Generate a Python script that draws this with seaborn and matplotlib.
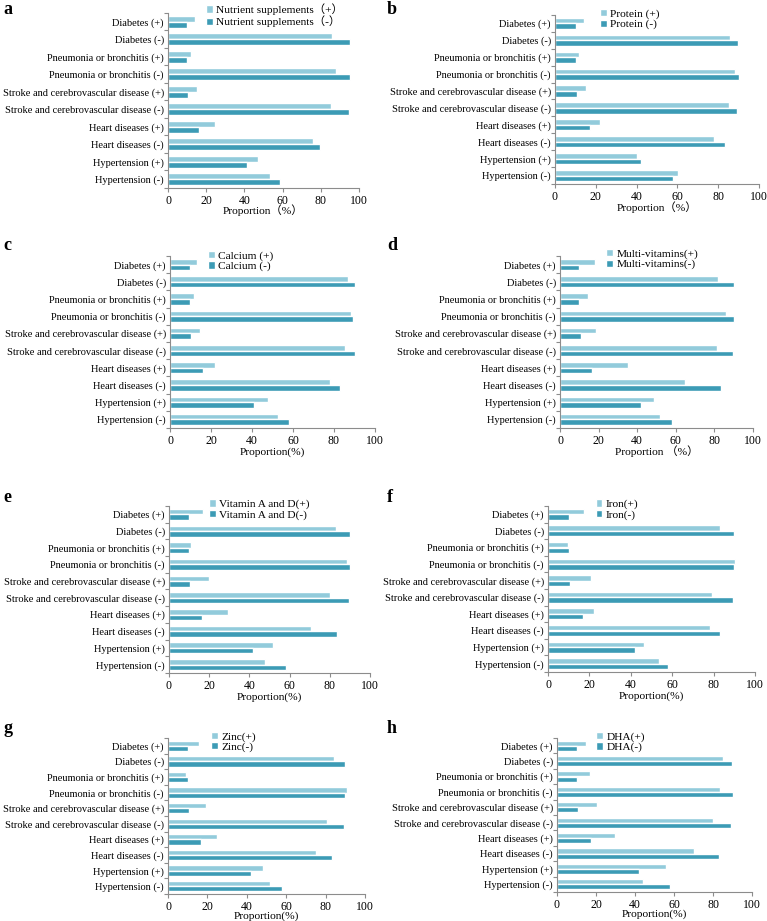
import numpy as np
import pandas as pd
import seaborn as sns
import matplotlib.pyplot as plt
from matplotlib.ticker import FixedLocator

sns.set_style("ticks")
plt.rcParams['font.family'] = ['Liberation Serif', 'Noto Sans CJK SC']
plt.rcParams['text.color'] = 'black'
plt.rcParams['axes.labelcolor'] = 'black'
plt.rcParams['xtick.labelcolor'] = 'black'
plt.rcParams['ytick.labelcolor'] = 'black'

categories = ["Diabetes (+)", "Diabetes (-)",
              "Pneumonia or bronchitis (+)", "Pneumonia or bronchitis (-)",
              "Stroke and cerebrovascular disease (+)", "Stroke and cerebrovascular disease (-)",
              "Heart diseases (+)", "Heart diseases (-)",
              "Hypertension (+)", "Hypertension (-)"]

panel_letters = ['a', 'b', 'c', 'd', 'e', 'f', 'g', 'h']
legend_plus = ["Nutrient supplements（+）", "Protein (+)", "Calcium (+)", "Multi-vitamins(+)",
               "Vitamin A and D(+)", "Iron(+)", "Zinc(+)", "DHA(+)"]
legend_minus = ["Nutrient supplements（-）", "Protein (-)", "Calcium (-)", "Multi-vitamins(-)",
                "Vitamin A and D(-)", "Iron(-)", "Zinc(-)", "DHA(-)"]
xlabels = ["Proportion（%）", "Proportion（%）", "Proportion(%)", "Proportion （%）",
           "Proportion(%)", "Proportion(%)", "Proportion(%)", "Proportion(%)"]

# values, same order as categories
a_plus = [14.3, 86.1, 12.0, 88.2, 15.1, 85.2, 24.7, 75.7, 47.1, 53.4]
a_minus = [9.7, 95.3, 9.9, 95.3, 10.3, 94.8, 16.2, 79.8, 41.4, 58.6]
b_plus = [14.4, 85.8, 11.8, 88.1, 15.2, 85.3, 22.1, 77.9, 40.0, 60.1]
b_minus = [10.3, 89.9, 10.3, 90.0, 10.9, 89.4, 17.0, 83.2, 42.2, 57.7]
c_plus = [13.3, 86.9, 11.7, 88.3, 14.8, 85.6, 22.1, 78.2, 47.7, 52.6]
c_minus = [9.7, 90.4, 9.7, 89.4, 10.2, 90.1, 16.2, 83.0, 41.1, 58.1]
d_plus = [18.1, 82.0, 14.3, 86.0, 18.8, 81.3, 35.2, 64.9, 48.5, 52.0]
d_minus = [10.0, 90.2, 10.0, 90.2, 10.7, 89.8, 16.6, 83.6, 42.1, 58.2]
e_plus = [16.7, 83.1, 11.1, 88.6, 19.9, 79.9, 29.4, 70.5, 51.9, 47.9]
e_minus = [9.8, 90.2, 9.8, 90.2, 10.4, 89.6, 16.6, 83.4, 41.8, 58.0]
f_plus = [17.2, 83.1, 9.8, 90.3, 20.9, 79.4, 22.1, 78.4, 46.4, 53.8]
f_minus = [10.1, 90.0, 10.1, 90.0, 10.8, 89.5, 17.1, 83.3, 42.0, 58.1]
g_plus = [15.6, 84.4, 9.0, 91.0, 19.5, 80.5, 24.7, 75.3, 48.1, 51.9]
g_minus = [10.2, 90.0, 10.0, 90.0, 10.7, 89.3, 16.8, 83.2, 42.1, 57.9]
h_plus = [15.0, 85.3, 16.9, 83.5, 20.4, 79.9, 29.6, 70.4, 55.7, 44.3]
h_minus = [10.2, 89.9, 10.2, 90.1, 10.7, 89.4, 17.2, 83.3, 41.9, 57.9]

plus_data = [a_plus, b_plus, c_plus, d_plus, e_plus, f_plus, g_plus, h_plus]
minus_data = [a_minus, b_minus, c_minus, d_minus, e_minus, f_minus, g_minus, h_minus]

light = '#92CBDB'
dark = '#3C9BB5'
axis_gray = '#8C8C8C'

W, H = 767, 921
# axes rectangles in pixels: left, top, width, height
rects = [(168, 13, 191, 175), (555, 15, 204, 169),
         (170, 256, 205, 172), (560, 256, 193, 172),
         (169, 506, 201, 167), (548, 506, 207, 166),
         (168, 738, 197, 156), (557, 738, 195, 154)]
letter_pos = [(3, 10), (387, 10), (3, 245), (387, 245),
              (3, 497), (387, 497), (3, 728), (387, 728)]
legend_x = [0.20, 0.22, 0.185, 0.24, 0.20, 0.23, 0.22, 0.20]
legend_y = [1.055, 1.035, 1.03, 1.04, 1.04, 1.04, 1.04, 1.04]
label_pads = [-2, -1, 0, -1, 0, 0, -1, -1]

fig = plt.figure(figsize=(W / 100, H / 100), dpi=100)

for i in range(8):
    l, t, w, h = rects[i]
    ax = fig.add_axes([l / W, 1 - (t + h) / H, w / W, h / H])
    df = pd.DataFrame({
        'category': categories * 2,
        'value': plus_data[i] + minus_data[i],
        'group': [legend_plus[i]] * 10 + [legend_minus[i]] * 10,
    })
    sns.barplot(data=df, y='category', x='value', hue='group', orient='h',
                palette=[light, dark], width=0.66, saturation=1, ax=ax)
    ax.set_xlim(0, 100)
    ax.set_ylim(9.5, -0.5)
    ax.set_xticks([0, 20, 40, 60, 80, 100])
    ax.set_ylabel('')
    ax.set_xlabel(xlabels[i], fontsize=8.2, labelpad=label_pads[i])
    ax.tick_params(axis='y', which='major', length=0, labelsize=7.5, pad=3)
    ax.yaxis.set_minor_locator(FixedLocator(np.arange(-0.5, 10, 1)))
    ax.tick_params(axis='y', which='minor', length=3, color=axis_gray, width=0.8)
    ax.tick_params(axis='x', length=3, color=axis_gray, width=0.8, labelsize=8.5, pad=2)
    sns.despine(ax=ax)
    for s in ['left', 'bottom']:
        ax.spines[s].set_color(axis_gray)
        ax.spines[s].set_linewidth(0.8)
    handles, labels = ax.get_legend_handles_labels()
    ax.legend(handles, labels, loc='upper left', bbox_to_anchor=(legend_x[i], legend_y[i]),
              frameon=False, fontsize=8.2, handlelength=0.6, handleheight=0.6,
              handletextpad=0.3, labelspacing=0.05, borderaxespad=0, borderpad=0)
    fig.text(letter_pos[i][0] / W, 1 - letter_pos[i][1] / H, panel_letters[i],
             fontsize=13, fontweight='bold', ha='left', va='center')

fig.savefig('out.png', dpi=100)
